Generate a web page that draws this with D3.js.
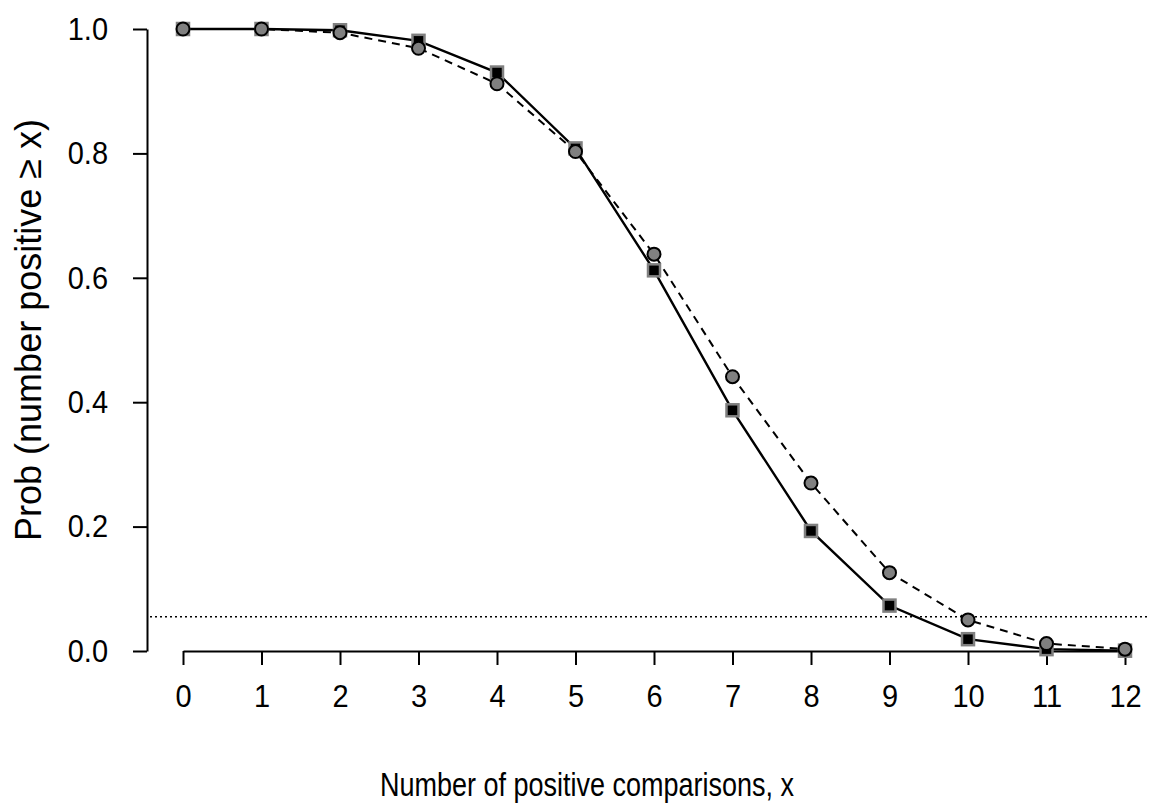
<!DOCTYPE html>
<html>
<head>
<meta charset="utf-8">
<script src="https://cdn.jsdelivr.net/npm/d3@7"></script>
<style>
  body { margin: 0; background: #fff; }
  svg text { font-family: "Liberation Sans", Arial, sans-serif; fill: #000; }
  .axis path, .axis line { stroke: #000; stroke-width: 2px; }
  .tall { transform-box: fill-box; transform-origin: center; transform: scaleY(1.1); }
  .title-x { transform-box: fill-box; transform-origin: center; transform: scaleY(1.2); }
</style>
</head>
<body>
<svg id="chart" width="1157" height="807"></svg>
<script>
// x values (number of positive comparisons)
const xValues = [0, 1, 2, 3, 4, 5, 6, 7, 8, 9, 10, 11, 12];
// solid line, square markers
const squareSeries = [1.0, 1.0, 0.998, 0.981, 0.930, 0.808, 0.612, 0.387, 0.193, 0.073, 0.019, 0.003, 0.0005];
// dashed line, circle markers
const circleSeries = [1.0, 1.0, 0.994, 0.969, 0.912, 0.803, 0.638, 0.441, 0.270, 0.126, 0.050, 0.012, 0.003];
const yTicks = [0.0, 0.2, 0.4, 0.6, 0.8, 1.0];
const threshold = 0.055;

const svg = d3.select('#chart');

const x = d3.scaleLinear().domain([0, 12]).range([183, 1125]);
const y = d3.scaleLinear().domain([0, 1]).range([651, 29]);

// y axis
svg.append('g')
  .attr('class', 'axis')
  .attr('transform', 'translate(147,0)')
  .call(d3.axisLeft(y).tickValues(yTicks).tickFormat(d3.format('.1f'))
    .tickSize(14).tickSizeOuter(0).tickPadding(25))
  .call(g => g.selectAll('text').attr('class', 'tall').style('font-size', '29px'));

// x axis
svg.append('g')
  .attr('class', 'axis')
  .attr('transform', 'translate(0,651)')
  .call(d3.axisBottom(x).tickValues(xValues).tickFormat(d3.format('d'))
    .tickSize(14).tickSizeOuter(0).tickPadding(20))
  .call(g => g.selectAll('text').attr('class', 'tall').style('font-size', '29px'));

// dotted reference line
svg.append('line')
  .attr('x1', 150).attr('x2', 1147)
  .attr('y1', y(threshold)).attr('y2', y(threshold))
  .attr('stroke', '#000').attr('stroke-width', 1.5)
  .attr('stroke-dasharray', '2,3');

const line = d3.line().x((d, i) => x(xValues[i])).y(d => y(d));

svg.append('path')
  .attr('d', line(squareSeries))
  .attr('fill', 'none').attr('stroke', '#000').attr('stroke-width', 2.4);

svg.append('path')
  .attr('d', line(circleSeries))
  .attr('fill', 'none').attr('stroke', '#000').attr('stroke-width', 2)
  .attr('stroke-dasharray', '8,6');

const sq = 12;
svg.append('g').selectAll('rect')
  .data(squareSeries)
  .enter().append('rect')
    .attr('x', (d, i) => x(xValues[i]) - sq / 2)
    .attr('y', d => y(d) - sq / 2)
    .attr('width', sq).attr('height', sq)
    .attr('fill', '#000').attr('stroke', '#808080').attr('stroke-width', 2.5);

svg.append('g').selectAll('circle')
  .data(circleSeries)
  .enter().append('circle')
    .attr('cx', (d, i) => x(xValues[i]))
    .attr('cy', d => y(d))
    .attr('r', 6.5)
    .attr('fill', '#808080').attr('stroke', '#000').attr('stroke-width', 2);

// axis titles
svg.append('text')
  .attr('class', 'title-x')
  .attr('x', 587).attr('y', 794)
  .attr('text-anchor', 'middle')
  .style('font-size', '27px')
  .text('Number of positive comparisons, x');

svg.append('text')
  .attr('transform', 'translate(41,330) rotate(-90)')
  .attr('text-anchor', 'middle')
  .style('font-size', '36px')
  .text('Prob (number positive \u2265 x)');
</script>
</body>
</html>
